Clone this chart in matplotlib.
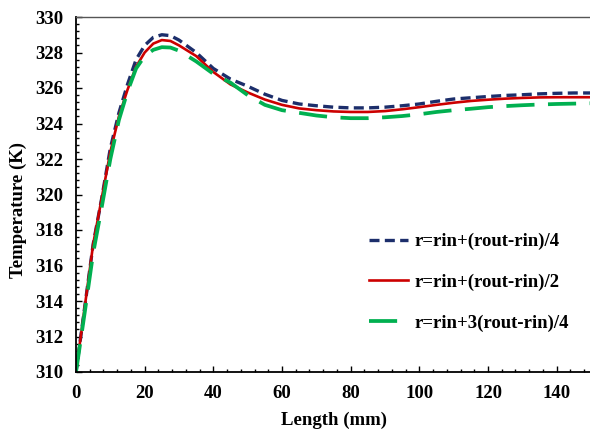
import matplotlib
matplotlib.use("Agg")
import matplotlib.pyplot as plt
from matplotlib.ticker import MultipleLocator

length_mm = [0, 2.5, 5, 7.5, 10, 12.5, 15, 17.5, 20, 22.5, 25, 27.5, 30, 35, 40, 45, 50, 55,
             60, 65, 70, 75, 80, 85, 90, 95, 100, 105, 110, 115, 120, 125, 130, 135, 140, 145, 150]

temp_quarter = [310, 313.6, 317.2, 319.8, 322.6, 324.6, 326.2, 327.6, 328.4, 328.85, 329.0, 328.95,
                328.7, 328.0, 327.1, 326.5, 326.1, 325.65, 325.3, 325.1, 325.0, 324.92, 324.88,
                324.88, 324.92, 325.0, 325.1, 325.25, 325.38, 325.45, 325.52, 325.58, 325.62,
                325.67, 325.7, 325.72, 325.72]

temp_half = [310, 313.6, 317.2, 319.8, 322.4, 324.4, 325.9, 327.2, 328.0, 328.5, 328.7, 328.65,
             328.4, 327.8, 326.9, 326.2, 325.75, 325.35, 325.05, 324.85, 324.75, 324.68, 324.65,
             324.65, 324.7, 324.8, 324.92, 325.05, 325.17, 325.27, 325.34, 325.4, 325.44,
             325.47, 325.48, 325.48, 325.48]

temp_three_quarter = [310, 313.3, 316.7, 319.3, 322.0, 324.2, 325.8, 327.1, 327.8, 328.15, 328.3,
                      328.28, 328.1, 327.5, 326.8, 326.3, 325.6, 325.05, 324.75, 324.6, 324.45,
                      324.35, 324.3, 324.3, 324.35, 324.42, 324.52, 324.65, 324.75, 324.83,
                      324.92, 324.98, 325.03, 325.07, 325.1, 325.12, 325.14]

labels = ["r=rin+(rout-rin)/4", "r=rin+(rout-rin)/2", "r=rin+3(rout-rin)/4"]

plt.rcParams['font.family'] = ['Liberation Serif', 'DejaVu Serif']
plt.rcParams['font.weight'] = 'bold'

fig = plt.figure(figsize=(5.90, 4.29), dpi=100)
ax = fig.add_axes([76/590, 1 - 372/429, 515/590, 355/429])

ax.plot(length_mm, temp_quarter, color='#1c2e6b', lw=2.4, dashes=(3.0, 1.6),
        label=labels[0], dash_capstyle='butt')
ax.plot(length_mm, temp_half, color='#cc0000', lw=1.9, label=labels[1])
ax.plot(length_mm, temp_three_quarter, color='#00b050', lw=2.7, dashes=(7.5, 3.6),
        label=labels[2], dash_capstyle='butt')

ax.set_xlim(0, 150)
ax.set_ylim(310, 330)
ax.xaxis.set_major_locator(MultipleLocator(20))
ax.xaxis.set_minor_locator(MultipleLocator(4))
ax.yaxis.set_major_locator(MultipleLocator(2))
ax.yaxis.set_minor_locator(MultipleLocator(0.4))
ax.tick_params(which='both', direction='in', width=1.0, labelsize=13.5, pad=9)
ax.tick_params(which='major', length=4)
ax.tick_params(which='minor', length=2.5)
for lab in ax.get_xticklabels() + ax.get_yticklabels():
    lab.set_fontweight('bold')

for s in ['left', 'bottom']:
    ax.spines[s].set_linewidth(1.3)
    ax.spines[s].set_color('black')
ax.spines['top'].set_linewidth(1.0)
ax.spines['top'].set_color('#555555')
ax.spines['right'].set_visible(False)

fig.text(18/590, 1 - 210/429, 'Temperature (K)', rotation=90, ha='center', va='center',
         fontsize=13.5, fontweight='bold')
fig.text(334/590, 1 - 420/429, 'Length (mm)', ha='center', va='center',
         fontsize=13.5, fontweight='bold')

leg = ax.legend(loc='upper left', bbox_to_anchor=(369/590, 1 - 233/429),
                bbox_transform=fig.transFigure, frameon=False,
                handlelength=2.1, handletextpad=0.3, labelspacing=1.25,
                borderpad=0, borderaxespad=0, prop={'weight': 'bold', 'size': 13.5})

fig.savefig('out.png', dpi=100)
